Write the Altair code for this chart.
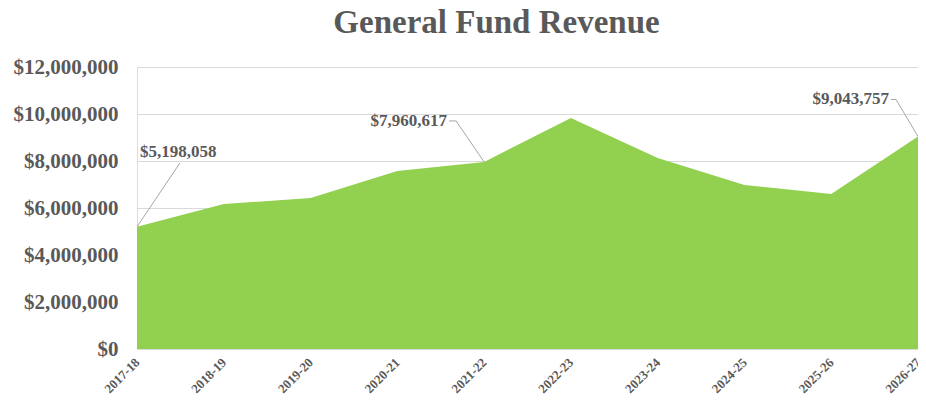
import altair as alt
import pandas as pd

years = ["2017-18", "2018-19", "2019-20", "2020-21", "2021-22",
         "2022-23", "2023-24", "2024-25", "2025-26", "2026-27"]
revenue = [5198058, 6170000, 6430000, 7570000, 7960617,
           9830000, 8130000, 6980000, 6600000, 9043757]
y_ticks = [0, 2000000, 4000000, 6000000, 8000000, 10000000, 12000000]
annotated = ["2017-18", "2021-22", "2026-27"]

df = pd.DataFrame({"year": years, "revenue": revenue})

FONT = "Liberation Serif"
GREY = "#595959"

x_enc = alt.X("year:N", sort=years, scale=alt.Scale(type="point", padding=0),
              axis=alt.Axis(title=None, labelAngle=-45, labelAlign="right",
                            labelBaseline="middle", labelPadding=11,
                            labelFont=FONT, labelFontSize=13, labelFontWeight="bold",
                            labelColor=GREY, ticks=False, domain=False, grid=False))
y_enc = alt.Y("revenue:Q", scale=alt.Scale(domain=[0, 12000000], nice=False),
              axis=alt.Axis(title=None, values=y_ticks, format="$,.0f",
                            labelFont=FONT, labelFontSize=21, labelFontWeight="bold",
                            labelColor=GREY, labelPadding=19, ticks=False, domain=False,
                            grid=True, gridColor="#d9d9d9", gridWidth=1))

area = alt.Chart(df).mark_area(color="#92D050", opacity=1).encode(x=x_enc, y=y_enc)

def ann_df(cat):
    return df[df["year"] == cat]

txt_style = dict(font=FONT, fontSize=17, fontWeight="bold", color=GREY, baseline="middle")
line_style = dict(color="#a6a6a6", strokeWidth=1)

layers = [area]

# annotation 1 (left)
d1 = ann_df(annotated[0])
layers.append(alt.Chart(d1).mark_rule(x2Offset=43, y2Offset=-64, **line_style).encode(
    x="year:N", y="revenue:Q", x2="year", y2="revenue"))
layers.append(alt.Chart(d1).mark_text(align="left", dx=3, dy=-75, **txt_style).encode(
    x="year:N", y="revenue:Q", text=alt.Text("revenue:Q", format="$,.0f")))

# annotation 2 (middle)
d2 = ann_df(annotated[1])
layers.append(alt.Chart(d2).mark_rule(x2Offset=-28, y2Offset=-41, **line_style).encode(
    x="year:N", y="revenue:Q", x2="year", y2="revenue"))
layers.append(alt.Chart(d2).mark_rule(xOffset=-28, yOffset=-41, x2Offset=-35, y2Offset=-41,
                                      **line_style).encode(
    x="year:N", y="revenue:Q", x2="year", y2="revenue"))
layers.append(alt.Chart(d2).mark_text(align="right", dx=-37, dy=-41, **txt_style).encode(
    x="year:N", y="revenue:Q", text=alt.Text("revenue:Q", format="$,.0f")))

# annotation 3 (right)
d3 = ann_df(annotated[2])
layers.append(alt.Chart(d3).mark_rule(x2Offset=-22, y2Offset=-37, **line_style).encode(
    x="year:N", y="revenue:Q", x2="year", y2="revenue"))
layers.append(alt.Chart(d3).mark_rule(xOffset=-22, yOffset=-37, x2Offset=-27, y2Offset=-37,
                                      **line_style).encode(
    x="year:N", y="revenue:Q", x2="year", y2="revenue"))
layers.append(alt.Chart(d3).mark_text(align="right", dx=-29, dy=-37, **txt_style).encode(
    x="year:N", y="revenue:Q", text=alt.Text("revenue:Q", format="$,.0f")))

chart = alt.layer(*layers).properties(
    width=781, height=282,
    title=alt.TitleParams("General Fund Revenue", font=FONT, fontSize=33, fontWeight="bold",
                          color=GREY, anchor="middle", frame="group", dx=-31,
                          baseline="alphabetic", offset=-10),
    autosize=alt.AutoSizeParams(type="none"),
    padding={"left": 129, "top": 59, "right": 0, "bottom": 49},
).configure_view(strokeWidth=0, stroke="transparent").configure(background="white")

chart.save("out.html", embed_options={"renderer": "svg", "actions": False})
